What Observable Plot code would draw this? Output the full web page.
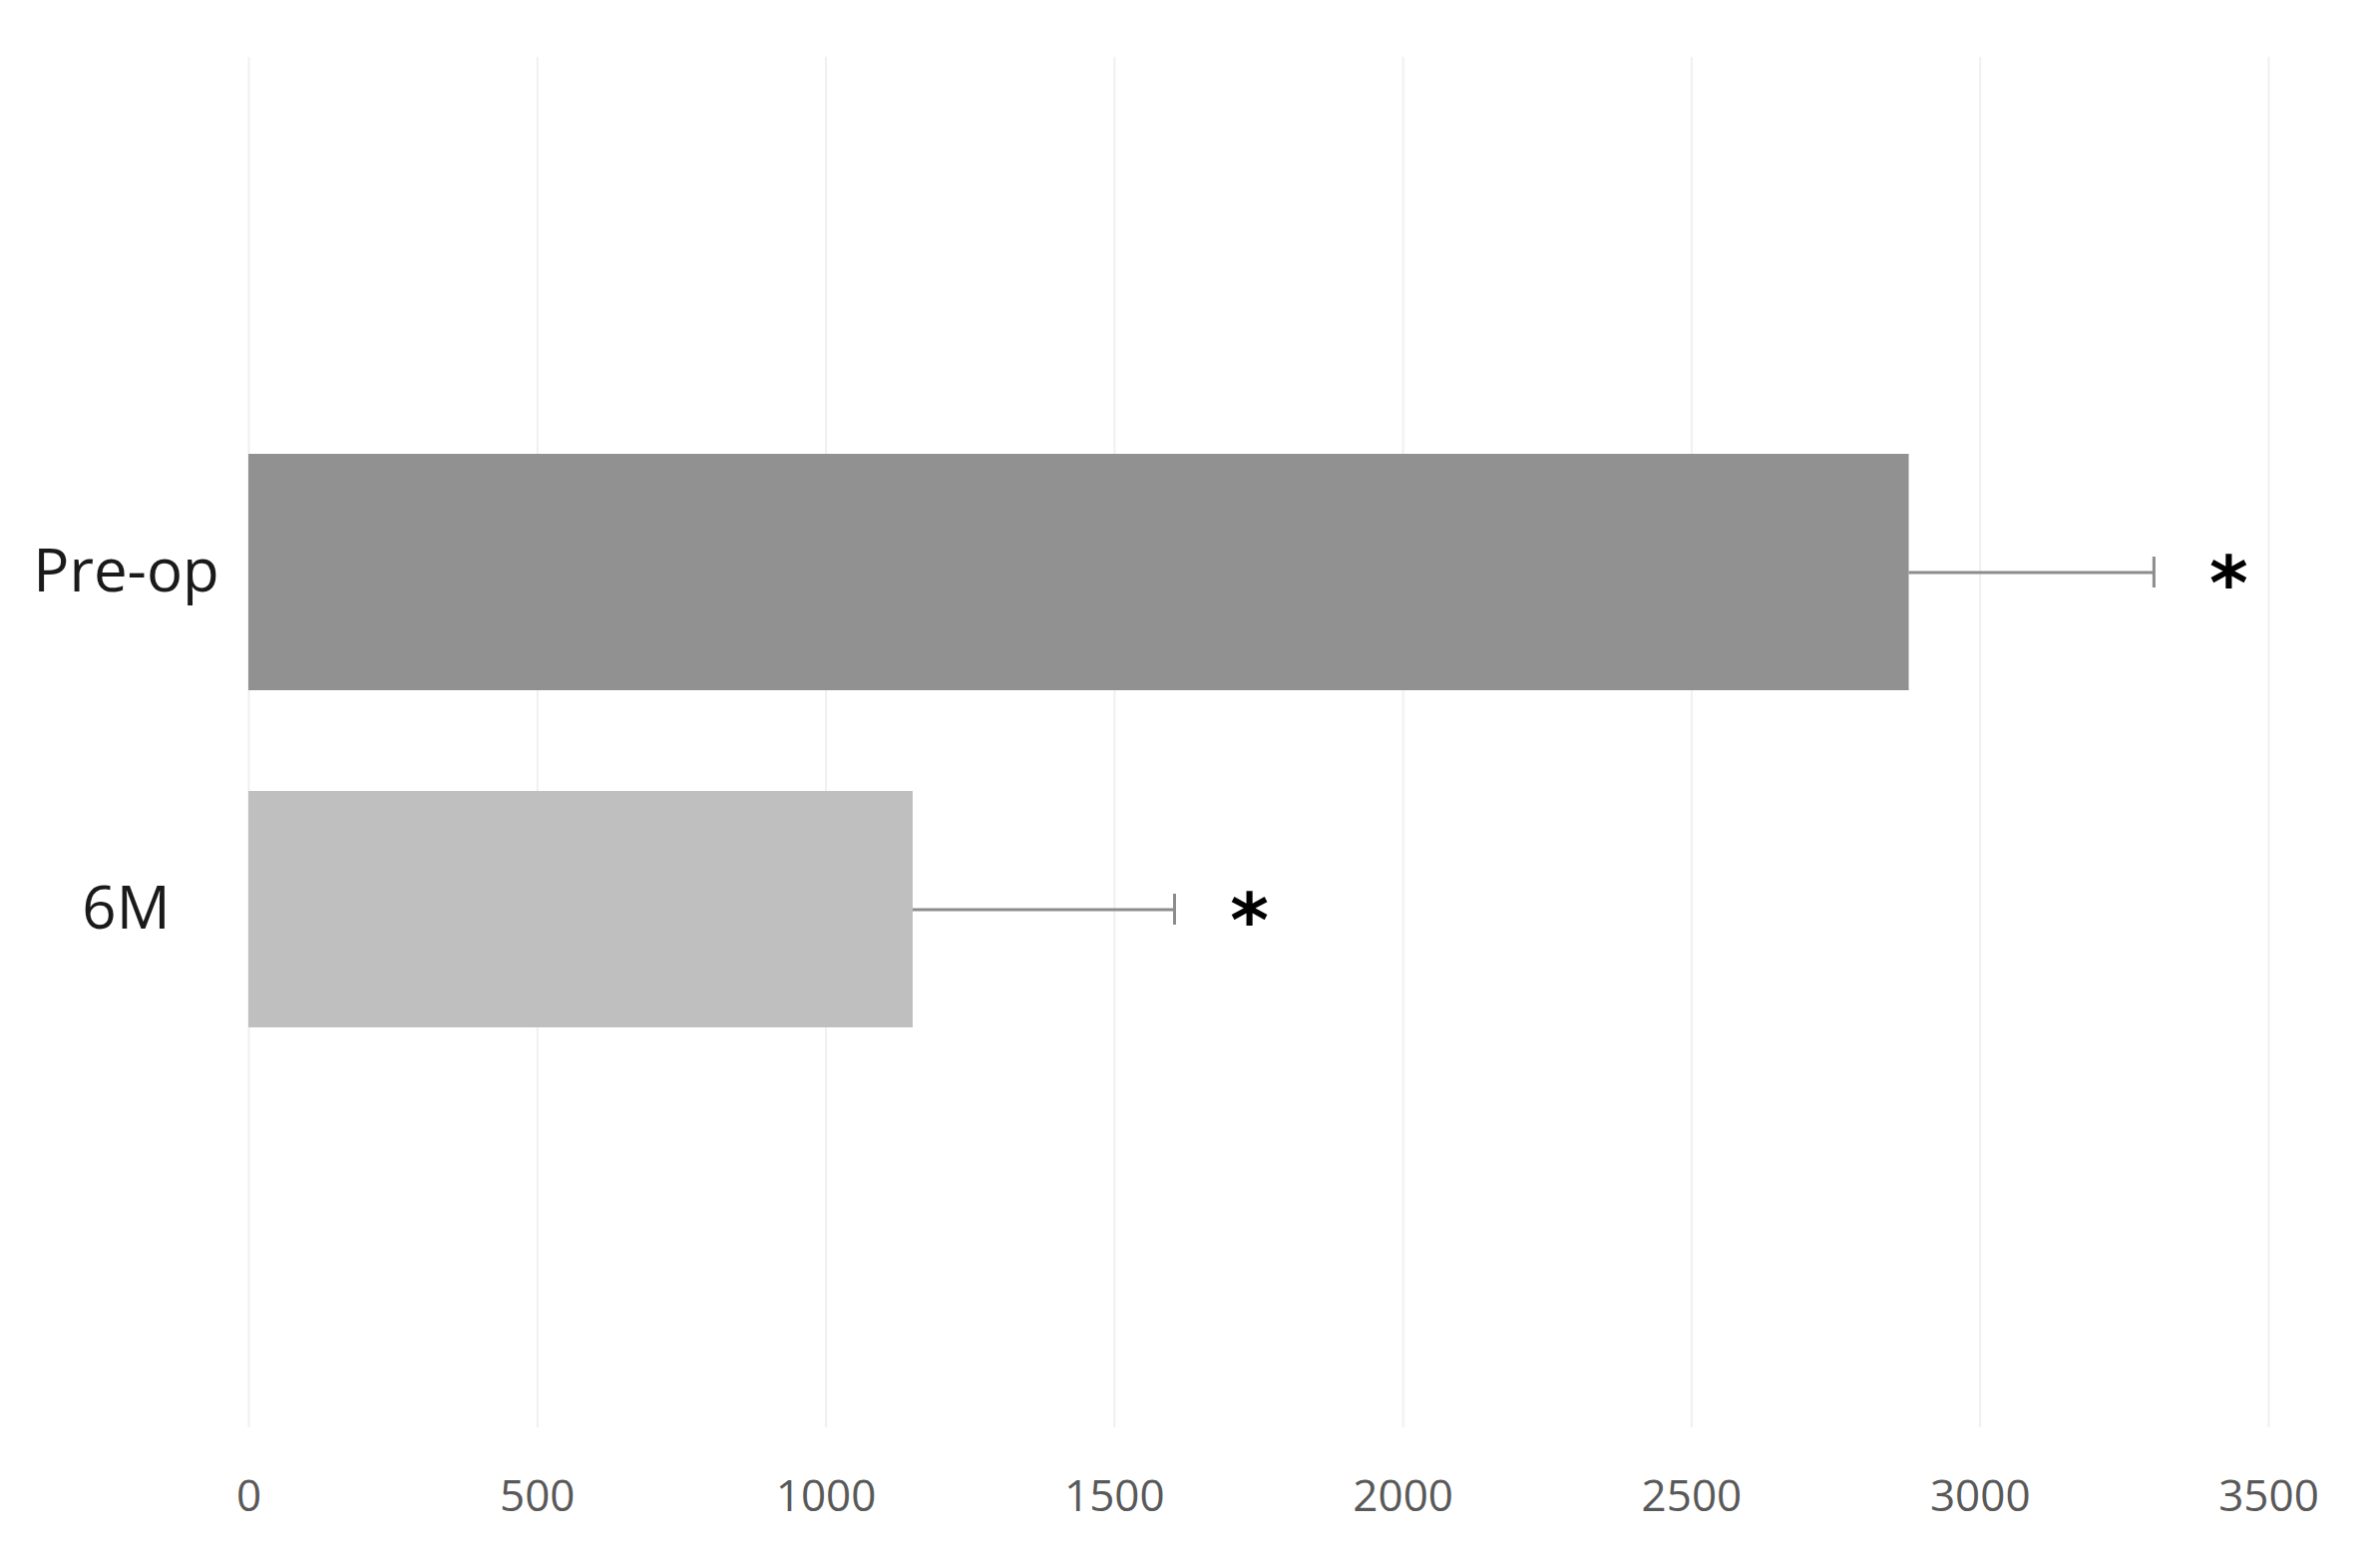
<!DOCTYPE html>
<html>
<head>
<meta charset="utf-8">
<script src="https://cdn.jsdelivr.net/npm/d3@7"></script>
<script src="https://cdn.jsdelivr.net/npm/@observablehq/plot@0.6"></script>
<style>
  html, body { margin: 0; padding: 0; background: #ffffff; }
  #chart svg { display: block; }
</style>
</head>
<body>
<div id="chart"></div>
<script>
// Data
const categories = ["Pre-op", "6M"];
const means = [2877, 1151];
const sds = [424, 453];
const marks = ["*", "*"];
const xTicks = [0, 500, 1000, 1500, 2000, 2500, 3000, 3500];
const barColors = ["#919191", "#bfbfbf"];

const rows = categories.map((c, i) => ({
  cat: c, mean: means[i], sd: sds[i], hi: means[i] + sds[i], mark: marks[i], color: barColors[i]
}));

const W = 2386, H = 1557;
const chart = Plot.plot({
  width: W,
  height: H,
  marginLeft: 249,
  marginRight: 112,
  marginTop: 57,
  marginBottom: 126,
  style: { fontFamily: "'Open Sans', sans-serif", background: "#ffffff" },
  x: { domain: [0, 3500], label: null },
  y: { type: "band", domain: categories, range: [455, 1030], paddingInner: 0.299, paddingOuter: 0, align: 0, label: null },
  marks: [
    Plot.gridX(xTicks, { stroke: "#f0f0f0", strokeOpacity: 1, strokeWidth: 2 }),
    Plot.axisX(xTicks, {
      tickSize: 0, tickPadding: 52, fontSize: 44, fill: "#595959", label: null,
      tickFormat: d => String(d)
    }),
    Plot.axisY({
      tickSize: 0, tickPadding: 123, textAnchor: "middle", fontSize: 60, fill: "#1a1a1a", label: null
    }),
    Plot.barX(rows, { x1: 0, x2: "mean", y: "cat", fill: "color" }),
    Plot.ruleY(rows, { x1: "mean", x2: "hi", y: "cat", stroke: "#8c8c8c", strokeWidth: 3 }),
    Plot.tickX(rows, { x: "hi", y: "cat", stroke: "#8c8c8c", strokeWidth: 3, insetTop: 103, insetBottom: 103 }),
    Plot.text(rows, {
      x: "hi", y: "cat", text: "mark", dx: 75, dy: 13,
      fontSize: 74, fontWeight: "bold", fill: "#000000", textAnchor: "middle",
      fontFamily: "'DejaVu Sans', sans-serif"
    })
  ]
});
document.getElementById("chart").appendChild(chart);
</script>
</body>
</html>
